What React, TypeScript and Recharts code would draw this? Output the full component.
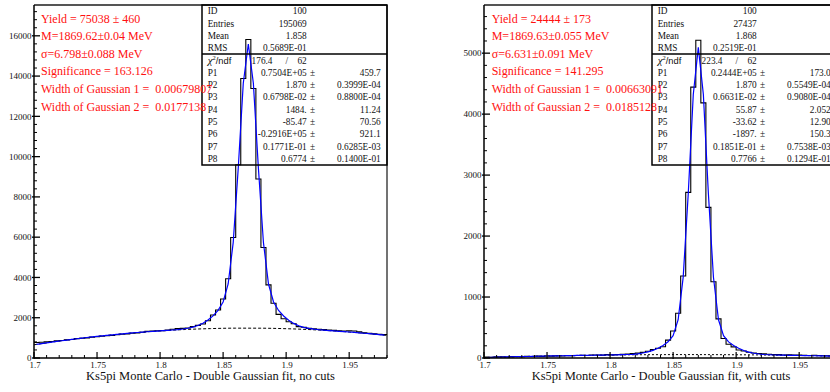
import React from 'react';
import { ComposedChart, Line, XAxis, YAxis, ReferenceLine } from 'recharts';

// ---------- data ----------
const BIN_START = 1.7;
const BIN_WIDTH = 0.004;
const X_END = 1.98;

const histNoCuts = [
  770, 780, 800, 820, 850, 870, 900, 920, 960, 980,
  1000, 1030, 1060, 1080, 1110, 1120, 1160, 1180, 1200, 1230,
  1250, 1280, 1320, 1340, 1350, 1360, 1390, 1430, 1460, 1470,
  1490, 1560, 1620, 1690, 1850, 2133, 2383, 2933, 3933, 5985,
  9600, 13880, 15820, 13380, 8890, 5490, 3633, 2717, 2167, 1950,
  1800, 1700, 1560, 1530, 1470, 1450, 1430, 1410, 1390, 1370,
  1350, 1340, 1350, 1340, 1300, 1250, 1230, 1200, 1180, 1160,
];
const fitNoCuts = [
  675, 714, 751, 788, 823, 858, 892, 924, 956, 987,
  1017, 1046, 1074, 1101, 1128, 1153, 1178, 1201, 1224, 1245,
  1266, 1285, 1304, 1322, 1339, 1356, 1373, 1391, 1412, 1439,
  1476, 1530, 1611, 1725, 1883, 2090, 2363, 2784, 3677, 5728,
  9423, 13644, 15594, 13643, 9421, 5726, 3674, 2781, 2359, 2086,
  1877, 1719, 1604, 1523, 1468, 1430, 1403, 1381, 1362, 1344,
  1327, 1309, 1291, 1271, 1251, 1229, 1207, 1184, 1160, 1135,
];
const bgX = [1.7, 1.72, 1.74, 1.76, 1.78, 1.8, 1.82, 1.84, 1.86, 1.88, 1.9, 1.92, 1.94, 1.96, 1.98];
const bgNoCuts = [656, 841, 1002, 1141, 1255, 1347, 1415, 1460, 1482, 1480, 1455, 1407, 1335, 1240, 1122];

const histCuts = [
  15, 12, 18, 20, 16, 22, 25, 20, 28, 24,
  30, 27, 32, 30, 35, 33, 38, 36, 40, 44,
  42, 48, 50, 47, 55, 52, 58, 62, 66, 72,
  80, 92, 110, 140, 160, 185, 293, 442, 735, 1344,
  2716, 4443, 5213, 4185, 2470, 1250, 641, 320, 226, 182,
  130, 115, 95, 82, 75, 68, 62, 58, 55, 50,
  52, 48, 50, 45, 42, 44, 40, 38, 36, 35,
];
const fitCuts = [
  8, 10, 13, 15, 17, 19, 21, 23, 25, 27,
  29, 31, 33, 34, 36, 37, 39, 40, 42, 43,
  44, 45, 46, 47, 49, 50, 52, 54, 57, 61,
  69, 82, 100, 126, 161, 205, 266, 367, 628, 1326,
  2691, 4323, 5094, 4323, 2691, 1325, 627, 366, 264, 204,
  159, 123, 97, 78, 66, 57, 53, 49, 47, 46,
  44, 42, 41, 40, 38, 37, 35, 34, 32, 30,
];
const bgCuts = [7, 18, 28, 37, 44, 49, 53, 55, 56, 55, 53, 50, 44, 38, 29];

const xMajor = [1.7, 1.75, 1.8, 1.85, 1.9, 1.95];
const xMajorLabels = ['1.7', '1.75', '1.8', '1.85', '1.9', '1.95'];
const yMajorNoCuts = [0, 2000, 4000, 6000, 8000, 10000, 12000, 14000, 16000];
const yMajorCuts = [0, 1000, 2000, 3000, 4000, 5000];

const statLabels = ['ID', 'Entries', 'Mean', 'RMS'];
const statsNoCuts = ['100', '195069', '1.858', '0.5689E-01'];
const statsCuts = ['100', '27437', '1.868', '0.2519E-01'];
const chiNoCuts = ['176.4', '62'];
const chiCuts = ['223.4', '62'];
const paramLabels = ['P1', 'P2', 'P3', 'P4', 'P5', 'P6', 'P7', 'P8'];
const paramsNoCuts = ['0.7504E+05', '1.870', '0.6798E-02', '1484.', '-85.47', '-0.2916E+05', '0.1771E-01', '0.6774'];
const errorsNoCuts = ['459.7', '0.3999E-04', '0.8800E-04', '11.24', '70.56', '921.1', '0.6285E-03', '0.1400E-01'];
const paramsCuts = ['0.2444E+05', '1.870', '0.6631E-02', '55.87', '-33.62', '-1897.', '0.1851E-01', '0.7766'];
const errorsCuts = ['173.0', '0.5549E-04', '0.9080E-04', '2.052', '12.90', '150.3', '0.7538E-03', '0.1294E-01'];

const infoNoCuts = [
  'Yield = 75038 ± 460',
  'M=1869.62±0.04 MeV',
  'σ=6.798±0.088 MeV',
  'Significance = 163.126',
  'Width of Gaussian 1 =  0.00679807',
  'Width of Gaussian 2 =  0.0177138',
];
const infoCuts = [
  'Yield = 24444 ± 173',
  'M=1869.63±0.055 MeV',
  'σ=6.631±0.091 MeV',
  'Significance = 141.295',
  'Width of Gaussian 1 =  0.00663091',
  'Width of Gaussian 2 =  0.0185128',
];
const titleNoCuts = 'Ks5pi Monte Carlo - Double Gaussian fit, no cuts';
const titleCuts = 'Ks5pi Monte Carlo - Double Gaussian fit, with cuts';

// ---------- helpers ----------
const SERIF = "'Liberation Serif', 'Times New Roman', serif";
const SANS = "'Liberation Sans', Arial, sans-serif";
const r4 = (v: number) => Math.round(v * 10000) / 10000;

const stepData = (vals: number[]) => {
  const pts = vals.map((v, i) => ({ x: r4(BIN_START + i * BIN_WIDTH), y: v }));
  pts.push({ x: X_END, y: vals[vals.length - 1] });
  return pts;
};
const centerData = (vals: number[]) => vals.map((v, i) => ({ x: r4(BIN_START + (i + 0.5) * BIN_WIDTH), y: v }));
const pairData = (xs: number[], ys: number[]) => xs.map((x, i) => ({ x, y: ys[i] }));

const xTicks: number[] = [];
for (let i = 0; i <= 28; i++) xTicks.push(r4(1.7 + i * 0.01));

const makeYTicks = (step: number, max: number) => {
  const t: number[] = [];
  for (let v = 0; v <= max; v += step) t.push(v);
  return t;
};

const XTick = (props: any) => {
  const { x, y, payload } = props;
  const v = payload.value;
  const idx = xMajor.findIndex((m) => Math.abs(m - v) < 1e-6);
  if (idx >= 0) {
    return (
      <g>
        <line x1={x} x2={x} y1={y + 1} y2={y - 6} stroke="#000" strokeWidth={1.2} />
        <text x={x + 1} y={y + 9.5} textAnchor="middle" fontSize={9} fontFamily={SERIF} fill="#111">
          {xMajorLabels[idx]}
        </text>
      </g>
    );
  }
  return <line x1={x} x2={x} y1={y} y2={y - 3} stroke="#000" strokeWidth={1} />;
};

const makeYTick = (majors: number[]) => (props: any) => {
  const { x, y, payload } = props;
  const v = payload.value;
  if (majors.includes(v)) {
    return (
      <g>
        <line x1={x - 2} x2={x + 6} y1={y} y2={y} stroke="#000" strokeWidth={1.3} />
        <text x={x - 2.5} y={y + 3.2} textAnchor="end" fontSize={9} fontFamily={SERIF} fill="#111">
          {String(v)}
        </text>
      </g>
    );
  }
  return <line x1={x} x2={x + 3} y1={y} y2={y} stroke="#000" strokeWidth={1} />;
};

type PanelProps = {
  hist: number[];
  fit: number[];
  bg: number[];
  yMax: number;
  yMajors: number[];
  yStep: number;
  dash: string;
};

const Panel = ({ hist, fit, bg, yMax, yMajors, yStep, dash }: PanelProps) => {
  const YTick = makeYTick(yMajors);
  return (
    <ComposedChart width={390} height={392} margin={{ top: 5, right: 3, bottom: 0, left: 0 }}>
      <XAxis
        dataKey="x"
        type="number"
        domain={[1.7, X_END]}
        allowDataOverflow
        ticks={xTicks}
        interval={0}
        tick={XTick}
        tickLine={false}
        tickSize={0}
        tickMargin={0}
        height={34}
        axisLine={{ stroke: '#000', strokeWidth: 1.5 }}
      />
      <YAxis
        type="number"
        domain={[0, yMax]}
        allowDataOverflow
        ticks={makeYTicks(yStep, yMax)}
        interval={0}
        tick={YTick}
        tickLine={false}
        tickSize={0}
        tickMargin={0}
        width={34}
        axisLine={{ stroke: '#000', strokeWidth: 1.5 }}
      />
      <ReferenceLine y={yMax} stroke="#555" strokeWidth={2} />
      <ReferenceLine x={X_END} stroke="#444" strokeWidth={1.5} />
      <Line
        data={pairData(bgX, bg)}
        dataKey="y"
        type="monotone"
        stroke="#000"
        strokeWidth={1}
        strokeDasharray={dash}
        dot={false}
        activeDot={false}
        isAnimationActive={false}
      />
      <Line
        data={stepData(hist)}
        dataKey="y"
        type="stepAfter"
        stroke="#000"
        strokeWidth={1.1}
        dot={false}
        activeDot={false}
        isAnimationActive={false}
      />
      <Line
        data={centerData(fit)}
        dataKey="y"
        type="linear"
        stroke="#0000ff"
        strokeWidth={1.2}
        dot={false}
        activeDot={false}
        isAnimationActive={false}
      />
    </ComposedChart>
  );
};

const StatBox = ({ x0, stats, chi, params, errors }: { x0: number; stats: string[]; chi: string[]; params: string[]; errors: string[] }) => {
  const topBase = [14, 26.5, 39, 51];
  const pBase = [76, 88, 100.3, 112.5, 125, 137.3, 149.5, 162];
  const fs = 9.3;
  return (
    <g fontFamily={SERIF} fontSize={fs} fill="#111">
      <rect x={x0} y={5} width={185} height={160} fill="none" stroke="#000" strokeWidth={1.5} />
      <line x1={x0} x2={x0 + 185} y1={54} y2={54} stroke="#000" strokeWidth={1.3} />
      {statLabels.map((l, i) => (
        <g key={l}>
          <text x={x0 + 5.7} y={topBase[i]}>{l}</text>
          <text x={x0 + 104.7} y={topBase[i]} textAnchor="end">{stats[i]}</text>
        </g>
      ))}
      <text x={x0 + 5.7} y={64}>
        <tspan fontStyle="italic" fontSize={11}>χ</tspan>
        <tspan fontSize={6.5} dy={-4}>2</tspan>
        <tspan fontFamily={SANS} fontSize={9.3} dy={4}>/ndf</tspan>
      </text>
      <text x={x0 + 70.5} y={64} textAnchor="end">{chi[0]}</text>
      <text x={x0 + 84.7} y={64} textAnchor="middle">/</text>
      <text x={x0 + 104.7} y={64} textAnchor="end">{chi[1]}</text>
      {paramLabels.map((l, i) => (
        <g key={l}>
          <text x={x0 + 5.7} y={pBase[i]}>{l}</text>
          <text x={x0 + 104.7} y={pBase[i]} textAnchor="end">{params[i]}</text>
          <text x={x0 + 110.5} y={pBase[i]} textAnchor="middle">±</text>
          <text x={x0 + 178.7} y={pBase[i]} textAnchor="end">{errors[i]}</text>
        </g>
      ))}
    </g>
  );
};

const InfoText = ({ x0, lines }: { x0: number; lines: string[] }) => (
  <g fontFamily={SERIF} fontSize={12} fill="#ff1010" style={{ whiteSpace: 'pre' }}>
    {lines.map((l, i) => (
      <text key={i} x={x0} y={22.5 + i * 17.6} style={{ whiteSpace: 'pre' }}>
        {l}
      </text>
    ))}
  </g>
);

export default function App() {
  return (
    <div style={{ position: 'absolute', left: 0, top: 0, width: 830, height: 392, overflow: 'hidden', background: '#fff' }}>
      <div style={{ position: 'absolute', left: 0, top: 0 }}>
        <Panel hist={histNoCuts} fit={fitNoCuts} bg={bgNoCuts} yMax={17530} yMajors={yMajorNoCuts} yStep={400} dash="3 2" />
      </div>
      <div style={{ position: 'absolute', left: 450, top: 0 }}>
        <Panel hist={histCuts} fit={fitCuts} bg={bgCuts} yMax={5790} yMajors={yMajorCuts} yStep={200} dash="2 2" />
      </div>
      <svg width={830} height={392} style={{ position: 'absolute', left: 0, top: 0, pointerEvents: 'none' }}>
        <StatBox x0={202} stats={statsNoCuts} chi={chiNoCuts} params={paramsNoCuts} errors={errorsNoCuts} />
        <StatBox x0={652} stats={statsCuts} chi={chiCuts} params={paramsCuts} errors={errorsCuts} />
        <InfoText x0={41} lines={infoNoCuts} />
        <InfoText x0={491.7} lines={infoCuts} />
        <text x={210.5} y={380} textAnchor="middle" fontFamily={SERIF} fontSize={12.5} fill="#111">{titleNoCuts}</text>
        <text x={661} y={380} textAnchor="middle" fontFamily={SERIF} fontSize={12.5} fill="#111">{titleCuts}</text>
      </svg>
    </div>
  );
}
